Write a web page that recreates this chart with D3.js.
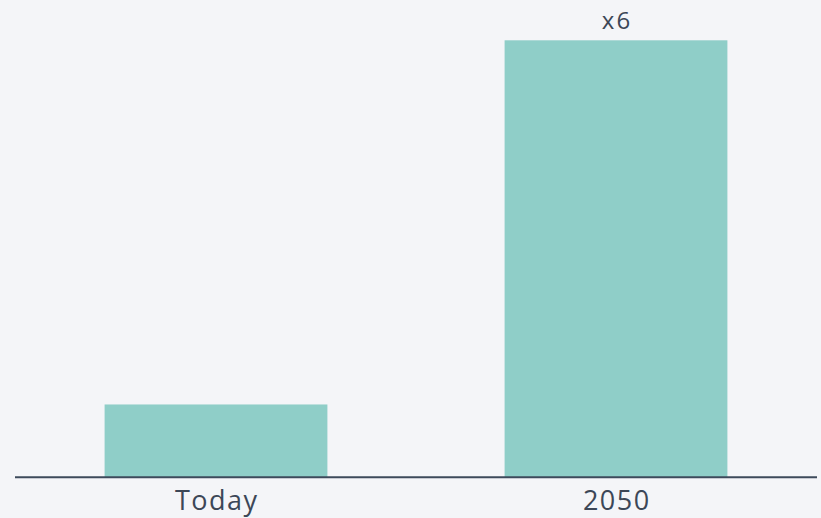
<!DOCTYPE html>
<html>
<head>
<meta charset="utf-8">
<script src="https://cdn.jsdelivr.net/npm/d3@7"></script>
<style>
html,body{margin:0;padding:0;background:#f4f5f8;}
svg{display:block;}
</style>
</head>
<body>
<svg id="chart" width="821" height="518"></svg>
<script>
const categories = ["Today", "2050"];
const values = [1, 6];
const annotations = ["", "x6"];

const W = 821, H = 518;
const svg = d3.select("#chart");
svg.append("rect").attr("width", W).attr("height", H).attr("fill", "#f4f5f8");

const x = d3.scaleBand().domain(categories).range([16, 816]).paddingInner(0.443).paddingOuter(0.2215);
const y = d3.scaleLinear().domain([0, 6]).range([477.3, 40.3]);

const font = "'Open Sans', 'Noto Sans', sans-serif";
const textColor = "#3c4757";

svg.selectAll("rect.bar").data(values).join("rect")
  .attr("class", "bar")
  .attr("x", (d, i) => x(categories[i]))
  .attr("width", x.bandwidth())
  .attr("y", d => y(d))
  .attr("height", d => y(0) - y(d))
  .attr("fill", "#8fcec8");

svg.append("line")
  .attr("x1", 15).attr("x2", 817)
  .attr("y1", y(0)).attr("y2", y(0))
  .attr("stroke", "#3d4a5b").attr("stroke-width", 2);

svg.selectAll("text.cat").data(categories).join("text")
  .attr("class", "cat")
  .attr("x", d => x(d) + x.bandwidth() / 2 + 0.8)
  .attr("y", 509.5)
  .attr("text-anchor", "middle")
  .attr("font-family", font)
  .attr("font-size", 27)
  .attr("letter-spacing", 1.5)
  .attr("fill", textColor)
  .text(d => d);

svg.selectAll("text.ann").data(annotations).join("text")
  .attr("class", "ann")
  .attr("x", (d, i) => x(categories[i]) + x.bandwidth() / 2 + 1)
  .attr("y", (d, i) => y(values[i]) - 11.5)
  .attr("text-anchor", "middle")
  .attr("font-family", font)
  .attr("font-size", 24)
  .attr("letter-spacing", 2)
  .attr("fill", textColor)
  .text(d => d);
</script>
</body>
</html>
